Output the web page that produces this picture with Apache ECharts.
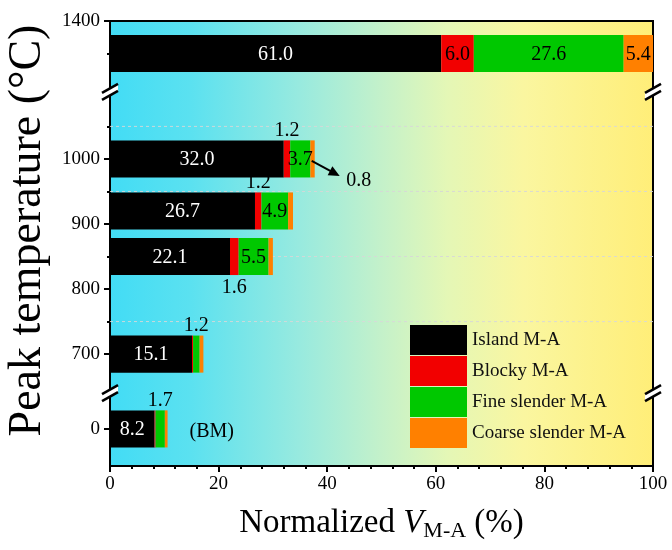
<!DOCTYPE html>
<html><head><meta charset="utf-8">
<script src="https://cdn.jsdelivr.net/npm/echarts@6/dist/echarts.min.js"></script>
<style>html,body{margin:0;padding:0;background:#fff}#c{width:672px;height:550px}</style>
</head><body><div id="c"></div>
<script>
// ---- data ----
const temperatures = [1350, 1000, 920, 850, 700, 0];
const island = [61.0, 32.0, 26.7, 22.1, 15.1, 8.2];
const blocky = [6.0, 1.2, 1.2, 1.6, 0.2, 0.2];
const fineSlender = [27.6, 3.7, 4.9, 5.5, 1.2, 1.7];
const coarseSlender = [5.4, 0.8, 0.9, 0.8, 0.7, 0.5];
const seriesNames = ['Island M-A', 'Blocky M-A', 'Fine slender M-A', 'Coarse slender M-A'];
const majorTicks = [0, 700, 800, 900, 1000, 1400];
const minorTicks = [750, 850, 950, 1050, 1350];
const xTicks = [0, 20, 40, 60, 80, 100];
// which values are written on the chart: [row, component, placement]
const labelSpecs = [
  [0,0,'in'],[0,1,'in'],[0,2,'in'],[0,3,'in'],
  [1,0,'in'],[1,1,'above'],[1,2,'in'],[1,3,'arrow'],
  [2,0,'in'],[2,1,'above'],[2,2,'in'],
  [3,0,'in'],[3,1,'below'],[3,2,'in'],
  [4,0,'in'],[4,2,'above'],
  [5,0,'in'],[5,2,'above']
];

// ---- broken axis mapping (real temperature -> axis coordinate) ----
function toAxis(t){ return t < 300 ? t + 585 : (t <= 1100 ? t : t - 188); }
function fromAxis(p){
  for (const t of majorTicks.concat(minorTicks)) if (Math.abs(toAxis(t) - p) < 0.5) return t;
  return '';
}
const breakPoints = [640, 1103];

const FONT = "'Liberation Serif','Times New Roman',serif";
const components = [island, blocky, fineSlender, coarseSlender];
const colors = ['#000000', '#F20000', '#00C800', '#FF8000'];
const BAR_H = 57;
const rowsY = temperatures.map(toAxis);

function startOf(ci, ri){ let s = 0; for (let k = 0; k < ci; k++) s += components[k][ri]; return s; }

const segSeries = components.map((vals, ci) => ({
  type: 'custom', name: seriesNames[ci], z: 3, clip: false,
  itemStyle: { color: colors[ci] },
  encode: { x: [0, 1], y: 2 },
  data: vals.map((v, ri) => [startOf(ci, ri), startOf(ci, ri) + v, rowsY[ri]]),
  renderItem: (params, api) => {
    const a = api.coord([api.value(0), api.value(2)]);
    const b = api.coord([api.value(1), api.value(2)]);
    const h = api.size([0, BAR_H])[1];
    return { type: 'rect', shape: { x: a[0], y: a[1] - h / 2, width: b[0] - a[0], height: h },
      style: { fill: api.visual('color') } };
  }
}));

const labelSeries = {
  type: 'custom', name: 'labels', z: 6, clip: false, silent: true,
  encode: { x: 0, y: 1 },
  data: labelSpecs.map(([ri, ci]) => [startOf(ci, ri) + components[ci][ri] / 2, rowsY[ri], startOf(4, ri)]),
  renderItem: (params, api) => {
    const [ri, ci, place] = labelSpecs[params.dataIndex];
    const txt = components[ci][ri].toFixed(1);
    const c = api.coord([api.value(0), api.value(1)]);
    const h = api.size([0, BAR_H])[1];
    const base = { font: '20px ' + FONT, align: 'center', verticalAlign: 'middle' };
    if (place === 'in') {
      return { type: 'text', style: Object.assign({ text: txt, x: c[0], y: c[1] + 1,
        fill: ci === 0 ? '#fff' : '#000' }, base) };
    }
    if (place === 'above') {
      return { type: 'text', style: Object.assign({ text: txt, x: c[0], y: c[1] - h / 2 - 10, fill: '#000' }, base) };
    }
    if (place === 'below') {
      return { type: 'text', style: Object.assign({ text: txt, x: c[0], y: c[1] + h / 2 + 13, fill: '#000' }, base) };
    }
    // arrow
    const e = api.coord([api.value(2), api.value(1)]);
    const x0 = e[0] - 3, y0 = e[1] + 2, x1 = e[0] + 25, y1 = e[1] + 17;
    const ang = Math.atan2(y1 - y0, x1 - x0);
    const hx = Math.cos(ang), hy = Math.sin(ang);
    return { type: 'group', children: [
      { type: 'line', shape: { x1: x0, y1: y0, x2: x1 - hx * 6, y2: y1 - hy * 6 }, style: { stroke: '#000', lineWidth: 2 } },
      { type: 'polygon', shape: { points: [[x1, y1],
          [x1 - hx * 11 - hy * 5, y1 - hy * 11 + hx * 5],
          [x1 - hx * 11 + hy * 5, y1 - hy * 11 - hx * 5]] }, style: { fill: '#000' } },
      { type: 'text', style: Object.assign({ text: txt, x: e[0] + 44, y: e[1] + 22, fill: '#000' }, base) }
    ] };
  }
};

const bmSeries = {
  type: 'custom', name: 'bm', z: 6, clip: false, silent: true,
  encode: { x: 0, y: 1 },
  data: [[startOf(4, 5), rowsY[5]]],
  renderItem: (params, api) => {
    const c = api.coord([api.value(0), api.value(1)]);
    return { type: 'text', style: { text: '(BM)', x: c[0] + 22, y: c[1] + 3, font: '20px ' + FONT,
      align: 'left', verticalAlign: 'middle', fill: '#000' } };
  }
};

const gridSeries = {
  type: 'custom', name: 'gridlines', z: 1, silent: true,
  encode: { y: 0 },
  data: minorTicks.map(t => [toAxis(t)]),
  renderItem: (params, api) => {
    const a = api.coord([0, api.value(0)]);
    const b = api.coord([100, api.value(0)]);
    return { type: 'line', shape: { x1: a[0], y1: a[1], x2: b[0], y2: b[1] },
      style: { stroke: 'rgba(215,215,215,0.9)', lineWidth: 1, lineDash: [3, 3] } };
  }
};

const breakSeries = {
  type: 'custom', name: 'breaks', z: 20, clip: false, silent: true,
  encode: { x: 0, y: 1 },
  data: breakPoints.flatMap(p => [[0, p], [100, p]]),
  renderItem: (params, api) => {
    const c = api.coord([api.value(0), api.value(1)]);
    const cx = c[0], cy = c[1];
    const p1 = [[cx - 8, cy + 1], [cx + 8, cy - 8]];
    const p2 = [[cx - 8, cy + 8], [cx + 8, cy - 1]];
    return { type: 'group', children: [
      { type: 'polygon', shape: { points: [p1[0], p1[1], p2[1], p2[0]] }, style: { fill: '#fff' } },
      { type: 'line', shape: { x1: p1[0][0], y1: p1[0][1], x2: p1[1][0], y2: p1[1][1] }, style: { stroke: '#000', lineWidth: 2.5 } },
      { type: 'line', shape: { x1: p2[0][0], y1: p2[0][1], x2: p2[1][0], y2: p2[1][1] }, style: { stroke: '#000', lineWidth: 2.5 } }
    ] };
  }
};

const yMin = 528, yMax = toAxis(1400);

const option = {
  animation: false,
  backgroundColor: '#fff',
  grid: {
    left: 110, right: 19, top: 21, bottom: 84, show: true,
    outerBoundsMode: 'none', containLabel: false,
    borderColor: '#000', borderWidth: 2,
    backgroundColor: new echarts.graphic.LinearGradient(0, 0, 1, 0, [
      { offset: 0, color: '#42DCF5' },
      { offset: 0.15, color: '#5BE1F0' },
      { offset: 0.35, color: '#98EADF' },
      { offset: 0.5, color: '#C4F1CA' },
      { offset: 0.62, color: '#E4F7B6' },
      { offset: 0.76, color: '#FAF6A0' },
      { offset: 1, color: '#FFEE78' }
    ])
  },
  legend: {
    data: seriesNames, orient: 'vertical', left: 405, top: 320,
    icon: 'rect', itemWidth: 57, itemHeight: 30, itemGap: 1,
    textStyle: { fontFamily: FONT, fontSize: 19, color: '#111' }
  },
  xAxis: {
    type: 'value', min: 0, max: 100, interval: 20,
    axisLine: { show: true, lineStyle: { color: '#000', width: 2 } },
    axisTick: { show: true, length: 6, lineStyle: { color: '#000', width: 2 } },
    minorTick: { show: true, splitNumber: 5, length: 3, lineStyle: { color: '#000', width: 2 } },
    splitLine: { show: false },
    axisLabel: { fontFamily: FONT, fontSize: 19, color: '#000', margin: 9,
      customValues: xTicks },
    name: '{n|Normalized }{v|V}{s|M-A}{n| (%)}',
    nameLocation: 'middle', nameGap: 38,
    nameTextStyle: { rich: {
      n: { fontFamily: FONT, fontSize: 33, color: '#000' },
      v: { fontFamily: FONT, fontSize: 33, fontStyle: 'italic', color: '#000' },
      s: { fontFamily: FONT, fontSize: 22, color: '#000', padding: [16, 0, 0, 0] }
    } }
  },
  yAxis: [
    {
      type: 'value', min: yMin, max: yMax, position: 'left',
      axisLine: { show: true, lineStyle: { color: '#000', width: 2 } },
      axisTick: { show: true, length: 6, lineStyle: { color: '#000', width: 2 },
        customValues: majorTicks.map(toAxis) },
      axisLabel: { fontFamily: FONT, fontSize: 19, color: '#000', margin: 10,
        customValues: majorTicks.map(toAxis), formatter: v => String(fromAxis(v)) },
      splitLine: { show: false },
      name: 'Peak temperature (°C)', nameLocation: 'middle', nameGap: 53,
      nameTextStyle: { fontFamily: FONT, fontSize: 46, color: '#000', padding: [0, 0, 0, 26] }
    },
    {
      type: 'value', min: yMin, max: yMax, position: 'left',
      axisLine: { show: false },
      axisTick: { show: true, length: 3, lineStyle: { color: '#000', width: 2 },
        customValues: minorTicks.map(toAxis) },
      axisLabel: { show: false, customValues: minorTicks.map(toAxis) },
      splitLine: { show: false }
    }
  ],
  series: [gridSeries].concat(segSeries, [labelSeries, bmSeries, breakSeries])
};
const chart = echarts.init(document.getElementById('c'));
chart.setOption(option);
</script>
</body></html>
